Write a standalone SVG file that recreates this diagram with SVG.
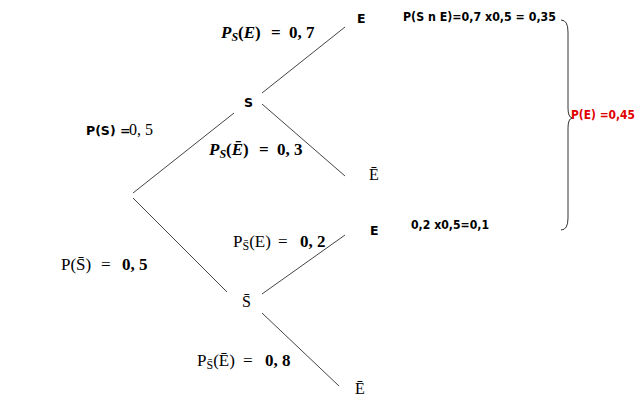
<svg xmlns="http://www.w3.org/2000/svg" width="644" height="406" viewBox="0 0 644 406">
<style>
.bg{fill:#fff}
.ln{stroke:#444;stroke-width:1;fill:none}
.br{stroke:#333;stroke-width:1;fill:none}
.sb{font-family:"DejaVu Sans","Liberation Sans",sans-serif;font-weight:bold;font-size:12.5px;fill:#000}
.calc{font-family:"DejaVu Sans","Liberation Sans",sans-serif;font-weight:bold;font-size:12.5px;fill:#000}
.red{fill:#e00000;font-size:11.5px}
.m{font-family:"Liberation Serif","DejaVu Serif",serif;font-weight:bold;font-size:17px;fill:#000}
.mi{font-style:italic}
.sub{font-size:12px}
.n{font-weight:normal}
.sr{font-family:"Liberation Serif","DejaVu Serif",serif;font-size:16px;fill:#000}
</style>
<rect class="bg" x="0" y="0" width="644" height="406"/>
<g id="connectors">
<line class="ln" x1="133" y1="193" x2="234" y2="113"/>
<line class="ln" x1="133" y1="198" x2="227" y2="292"/>
<line class="ln" x1="262" y1="93" x2="345" y2="27"/>
<line class="ln" x1="262" y1="104" x2="345" y2="176"/>
<line class="ln" x1="262" y1="294" x2="345" y2="235"/>
<line class="ln" x1="262" y1="313" x2="339" y2="386"/>
</g>
<g id="node-S"><text class="sb" x="244" y="107">S</text></g>
<g id="node-Sbar"><text class="sr" x="242" y="307">S̄</text></g>
<g id="node-E1"><text class="sb" x="357" y="23">E</text></g>
<g id="node-Ebar1"><text class="sr" x="369" y="180">Ē</text></g>
<g id="node-E2"><text class="sb" x="370" y="235">E</text></g>
<g id="node-Ebar2"><text class="sr" x="355" y="394">Ē</text></g>
<g id="label-PS">
<text x="86" y="135"><tspan class="sb">P(S) =</tspan><tspan class="sr" x="129">0, 5</tspan></text>
</g>
<g id="label-PSbar">
<text class="m" x="61" y="270"><tspan class="n">P(S̄)</tspan><tspan class="n" x="101">=</tspan><tspan x="122">0, 5</tspan></text>
</g>
<g id="label-PsE">
<text class="m" x="221" y="38"><tspan class="mi">P</tspan><tspan class="mi sub" dy="3">S</tspan><tspan dy="-3">(</tspan><tspan class="mi">E</tspan>)<tspan x="271">=</tspan><tspan x="289">0, 7</tspan></text>
</g>
<g id="label-PsEbar">
<text class="m" x="209" y="155"><tspan class="mi">P</tspan><tspan class="mi sub" dy="3">S</tspan><tspan dy="-3">(</tspan><tspan class="mi">Ē</tspan>)<tspan x="259">=</tspan><tspan x="277">0, 3</tspan></text>
</g>
<g id="label-PsbarE">
<text class="m" x="233" y="247"><tspan class="n">P</tspan><tspan class="n sub" dy="3">S̄</tspan><tspan class="n" dy="-3">(E)</tspan><tspan class="n" x="278">=</tspan><tspan x="300">0, 2</tspan></text>
</g>
<g id="label-PsbarEbar">
<text class="m" x="197" y="366"><tspan class="n">P</tspan><tspan class="n sub" dy="3">S̄</tspan><tspan class="n" dy="-3">(Ē)</tspan><tspan class="n" x="243">=</tspan><tspan x="265">0, 8</tspan></text>
</g>
<g id="calc">
<text class="calc" x="403" y="21" textLength="153" lengthAdjust="spacingAndGlyphs">P(S n E)=0,7 x0,5 = 0,35</text>
<text class="calc" x="411" y="229" textLength="78" lengthAdjust="spacingAndGlyphs">0,2 x0,5=0,1</text>
<path class="br" d="M561,20 Q568,20 568,32 L568,108 Q568,117 572,118 Q568,119 568,128 L568,218 Q568,230 561,230"/>
<text class="calc red" x="571" y="119" textLength="64" lengthAdjust="spacingAndGlyphs">P(E) =0,45</text>
</g>
</svg>
